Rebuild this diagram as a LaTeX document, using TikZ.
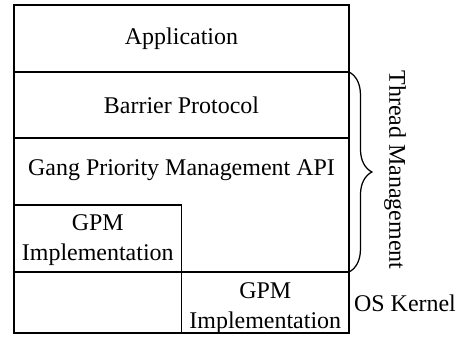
\documentclass[tikz,border=0pt]{standalone}
\usepackage{fontspec}
\setmainfont{Liberation Serif}
\usetikzlibrary{positioning,decorations.pathreplacing}

\begin{document}
\begin{tikzpicture}[x=0.48pt,y=0.48pt,line width=0.6pt,
  font=\fontsize{11.5}{14.4}\selectfont,
  layer/.style={draw,inner sep=0pt,outer sep=0pt,minimum width=160.8pt,align=center},
  part/.style={draw,inner sep=0pt,outer sep=0pt,minimum width=80.4pt,align=center}]
\useasboundingbox (0,0) rectangle (456,339);
% layers, from top to bottom
\node[layer,minimum height=32.16pt] (app) at (181.5,300.5) {Application};
\node[layer,minimum height=31.68pt,below=0pt of app] (barrier) {Barrier Protocol};
\node[layer,minimum height=64.32pt,below=0pt of barrier] (api) {};
\node (apitext) at ([yshift=-15.4pt]api.north) {Gang Priority Management API};
\node[layer,minimum height=29.28pt,below=0pt of api] (kernel) {};
% the two implementations
\node[part,minimum height=32.16pt,anchor=south west] (gpmuser) at (api.south west) {};
\node[align=center] (gpmutext) at ([yshift=-1pt]gpmuser.center) {GPM\\Implementation};
\node[part,minimum height=29.28pt,anchor=north east] (gpmkernel) at (kernel.north east) {};
\node[align=center] (gpmktext) at ([yshift=-2.5pt]gpmkernel.center) {GPM\\Implementation};
\draw[line width=1.2pt] (barrier.north west) -- (barrier.north east);
\draw[line width=1.2pt] (kernel.north west) -- (kernel.north east);
% brace
\draw[decorate,decoration={brace,amplitude=11pt}] (barrier.north east) -- (api.south east);
\node[rotate=-90] (thread) at (395,169) {Thread Management};
\node (os) at (405,36) {OS Kernel};
\end{tikzpicture}
\end{document}
